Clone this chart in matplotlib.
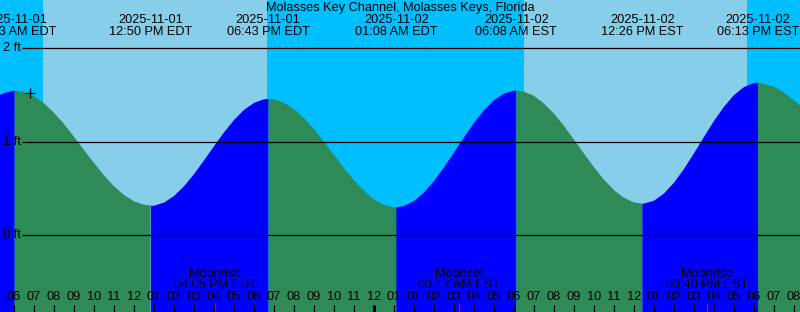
import matplotlib
matplotlib.use("Agg")
import matplotlib.pyplot as plt
import matplotlib.transforms as mtransforms

## Tide graph for Molasses Key Channel, 2025-11-01 .. 2025-11-02
## Time axis is hours since 2025-11-01 00:00 EDT (continuous, DST switch handled in labels)

title = "Molasses Key Channel, Molasses Keys, Florida"

# tide height (ft), every half hour plus the turning points
tide_t = [5.0, 5.5, 6.0, 6.05, 6.5, 7, 7.5, 8, 8.5, 9, 9.5, 10, 10.5, 11, 11.5, 12, 12.5,
          12.833, 13, 13.5, 14, 14.5, 15, 15.5, 16, 16.5, 17, 17.5, 18, 18.5, 18.717,
          19, 19.5, 20, 20.5, 21, 21.5, 22, 22.5, 23, 23.5, 24, 24.5, 25, 25.133,
          25.5, 26, 26.5, 27, 27.5, 28, 28.5, 29, 29.5, 30, 30.5, 31, 31.133,
          31.5, 32, 32.5, 33, 33.5, 34, 34.5, 35, 35.5, 36, 36.5, 37, 37.433,
          37.5, 38, 38.5, 39, 39.5, 40, 40.5, 41, 41.5, 42, 42.5, 43, 43.217,
          43.5, 44, 44.5, 45, 45.5, 46]
tide_h = [1.47, 1.515, 1.542, 1.543, 1.530, 1.485, 1.410, 1.31, 1.190, 1.055, 0.914, 0.775,
          0.643, 0.526, 0.432, 0.364, 0.326,
          0.319, 0.321, 0.355, 0.426, 0.530, 0.66, 0.806, 0.958, 1.105, 1.237, 1.344, 1.418,
          1.456, 1.46,
          1.454, 1.418, 1.349, 1.253, 1.134, 1.000, 0.859, 0.719, 0.589, 0.476, 0.387, 0.328,
          0.301, 0.30,
          0.311, 0.363, 0.453, 0.574, 0.719, 0.878, 1.040, 1.194, 1.329, 1.437, 1.509, 1.542,
          1.543,
          1.533, 1.488, 1.408, 1.30, 1.170, 1.025, 0.875, 0.729, 0.596, 0.485, 0.401, 0.351,
          0.337,
          0.338, 0.367, 0.442, 0.557, 0.703, 0.869, 1.044, 1.214, 1.367, 1.492, 1.579, 1.624,
          1.628,
          1.616, 1.585, 1.525, 1.44, 1.35, 1.27]

# high / low tide labels along the top
extreme_t = [6.05, 12.833, 18.717, 25.133, 31.133, 37.433, 43.217]
extreme_date = ["2025-11-01", "2025-11-01", "2025-11-01", "2025-11-02",
                "2025-11-02", "2025-11-02", "2025-11-02"]
extreme_time = ["06:03 AM EDT", "12:50 PM EDT", "06:43 PM EDT", "01:08 AM EDT",
                "06:08 AM EST", "12:26 PM EST", "06:13 PM EST"]

# sun
sunrise_t = [7.45, 31.515]
sunset_t = [18.65, 42.665]

# moon events
moon_t = [16.083, 28.283, 40.667]
moon_name = ["Moonrise", "Moonset", "Moonrise"]
moon_time = ["04:05 PM EDT", "03:17 AM EST", "03:40 PM EST"]

# hour ticks
hour_t = list(range(6, 46))
hour_labels = ["06", "07", "08", "09", "10", "11", "12", "01", "02", "03", "04", "05",
               "06", "07", "08", "09", "10", "11", "12", "01",
               "01", "02", "03", "04", "05", "06", "07", "08", "09", "10", "11", "12",
               "01", "02", "03", "04", "05", "06", "07", "08"]
midnight_t = [24]

levels = [0, 1, 2]
level_labels = ["0 ft", "1 ft", "2 ft"]

mark_t = 6.815
mark_h = 1.514

day_sky = "#87CEEB"
night_sky = "#00BFFF"
fall_col = "#2E8B57"
rise_col = "#0000FF"

x0, x1 = 5.315, 45.315
ybot, ytop = -0.818, 2.509

fig = plt.figure(figsize=(8, 3.12), dpi=100)
ax = fig.add_axes([0, 0, 1, 1])
ax.set_xlim(x0, x1)
ax.set_ylim(ybot, ytop)
ax.set_axis_off()

plt.rcParams['font.family'] = ['Liberation Sans', 'DejaVu Sans']
fs = 9.2

# sky: night / day
edges = [x0 - 1] + sorted(sunrise_t + sunset_t) + [x1 + 1]
for i in range(len(edges) - 1):
    col = night_sky if i % 2 == 0 else day_sky
    ax.axvspan(edges[i], edges[i + 1], color=col, lw=0, zorder=0)

# water: rising = blue, falling = green
runs = []
start = 0
for i in range(1, len(tide_t) - 1):
    up_a = tide_h[i] > tide_h[i - 1]
    up_b = tide_h[i + 1] > tide_h[i]
    if up_a != up_b:
        runs.append((start, i, up_a))
        start = i
runs.append((start, len(tide_t) - 1, tide_h[-1] > tide_h[-2]))
for a, b, up in runs:
    ax.fill_between(tide_t[a:b + 1], ybot - 1, tide_h[a:b + 1],
                    color=rise_col if up else fall_col, lw=0, zorder=1)

# level lines
xl = x0 + 22 / 20
for lv, lab in zip(levels, level_labels):
    ax.hlines(lv, xl, x1 + 1, color="black", lw=0.9, zorder=3)
    ax.text(x0 + 3 / 20, lv, lab, fontsize=fs, ha="left", va="center", zorder=4)

ax.plot([mark_t], [mark_h], marker="+", color="black", ms=7, mew=0.9, zorder=4)

trans = mtransforms.blended_transform_factory(ax.transData, ax.transAxes)
H = 312.0

def py(p):
    return 1 - p / H

ax.text((x0 + x1) / 2, py(7.5), title, fontsize=fs, ha="center", va="center", transform=trans)
for t, d, s in zip(extreme_t, extreme_date, extreme_time):
    ax.text(t, py(20), d, fontsize=fs, ha="center", va="center", transform=trans)
    ax.text(t, py(32), s, fontsize=fs, ha="center", va="center", transform=trans)

for t, n, s in zip(moon_t, moon_name, moon_time):
    ax.text(t, py(274), n, fontsize=fs, ha="center", va="center", transform=trans)
    ax.text(t, py(285.5), s, fontsize=fs, ha="center", va="center", transform=trans)
    ax.vlines(t, py(312), py(303), color="red", lw=0.9, transform=trans, zorder=5)

for t, lab in zip(hour_t, hour_labels):
    ax.text(t, py(297.5), lab, fontsize=fs, ha="center", va="center", transform=trans)
    w = 2.2 if t in midnight_t else 0.9
    ax.vlines(t, py(312), py(305), color="black", lw=w, transform=trans, zorder=5)

plt.savefig("out.png", dpi=100)
